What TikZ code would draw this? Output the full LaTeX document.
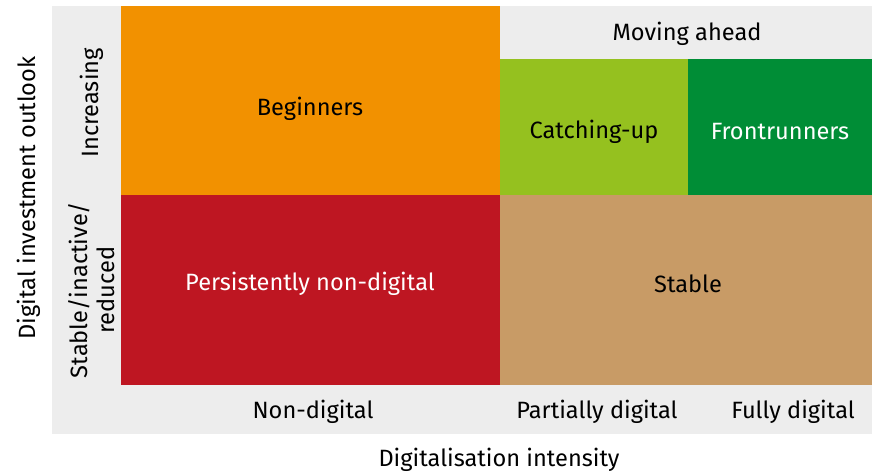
\documentclass[tikz,border=0pt]{standalone}
\usepackage{fontspec}
\setmainfont{Fira Sans}
\definecolor{cgrey}{HTML}{EDEDED}
\definecolor{corange}{HTML}{F29100}
\definecolor{cred}{HTML}{BE1622}
\definecolor{clgreen}{HTML}{95C11F}
\definecolor{cdgreen}{HTML}{008D36}
\definecolor{ctan}{HTML}{C89B66}
\begin{document}
\begin{tikzpicture}[x=1pt,y=-1pt,
  lbl/.style={font=\fontsize{23.6}{27}\selectfont, text=black, inner sep=0pt},
  wlbl/.style={lbl, text=white}]
\useasboundingbox (0,0) rectangle (872,474);
\fill[cgrey] (52,6) rectangle (872,434);
\fill[corange] (121,6) rectangle (500,195);
\fill[cred] (121,195) rectangle (500,385);
\fill[clgreen] (500,59) rectangle (688,195);
\fill[cdgreen] (688,59) rectangle (872,195);
\fill[ctan] (500,195) rectangle (872,385);
\node[lbl] (beg) at (310,109) {Beginners};
\node[lbl] (mov) at (687,34) {Moving ahead};
\node[lbl] (cat) at (594,132) {Catching-up};
\node[wlbl] (fro) at (780,132) {Frontrunners};
\node[wlbl] (per) at (310,284) {Persistently non-digital};
\node[lbl] (sta) at (688,284) {Stable};
\node[lbl] (non) at (313,412) {Non-digital};
\node[lbl] (par) at (597,412) {Partially digital};
\node[lbl] (ful) at (793,412) {Fully digital};
\node[lbl] (dig) at (499,460) {Digitalisation intensity};
\node[lbl, rotate=90] (out) at (29,198) {Digital investment outlook};
\node[lbl, rotate=90] (inc) at (92,103) {Increasing};
\node[lbl, rotate=90, align=center] (sir) at (92,290) {Stable/inactive/\\reduced};
\end{tikzpicture}
\end{document}
